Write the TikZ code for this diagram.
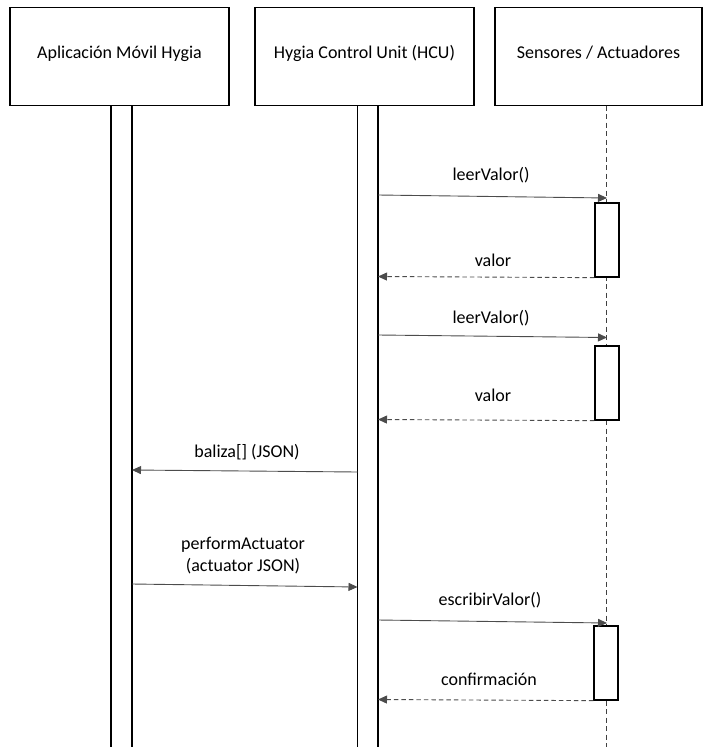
\documentclass[tikz,border=0pt]{standalone}
\usepackage{fontspec}
\setmainfont{Carlito}
\usetikzlibrary{arrows.meta}
\begin{document}
\begin{tikzpicture}[x=1pt,y=-1pt,
  lbl/.style={font=\fontsize{18}{22}\selectfont,text=black,inner sep=0pt,align=center},
  actor/.style={draw=black,line width=1.3pt,minimum width=219pt,minimum height=97.5pt,
    inner sep=0pt,text depth=9pt,lbl},
  bar/.style={draw=black,line width=1.4pt},
  lifeline/.style={draw=black!75,line width=0.8pt,dash pattern=on 5pt off 3.5pt},
  act/.style={draw=black,fill=white,line width=1.3pt,minimum width=24pt,minimum height=74pt,inner sep=0pt},
  call/.style={draw=black!70,line width=0.9pt,-{Triangle[length=9pt,width=8pt]}},
  reply/.style={draw=black!70,line width=0.9pt,dash pattern=on 4.5pt off 3pt,
    -{Triangle[length=9pt,width=8pt]}}
]
\useasboundingbox (0,0) rectangle (705,747);

% participant heads
\node[actor] (app) at (119.5,56.5) {Aplicación Móvil Hygia};
\node[actor] (hcu) at (364.5,56.5) {Hygia Control Unit (HCU)};
\node[actor,minimum width=207pt] (sens) at (598.5,56.5) {Sensores / Actuadores};

% lifelines
\draw[bar] (111,105.5) -- (111,747);
\draw[bar] (132,105.5) -- (132,747);
\draw[bar] (357.5,747) -- (357.5,105.5) -- (378,105.5) -- (378,747);
\draw[lifeline] (606.7,105.5) -- (606.7,747);

% activations on the sensor lifeline
\node[act] (act1) at (607,240) {};
\node[act] (act2) at (607,383) {};
\node[act] (act3) at (606,663) {};

% message end points
\coordinate (c1s) at (378,195);   \coordinate (c1e) at (607,198);
\coordinate (r1s) at (act1.south west); \coordinate (r1e) at (378,276.5);
\coordinate (c2s) at (378,335);   \coordinate (c2e) at (607,337.5);
\coordinate (r2s) at (act2.south west); \coordinate (r2e) at (378,419.5);
\coordinate (c3s) at (357.5,472); \coordinate (c3e) at (132,470);
\coordinate (c4s) at (132,584);   \coordinate (c4e) at (357.5,587);
\coordinate (c5s) at (378,620);   \coordinate (c5e) at (607,623);
\coordinate (r3s) at (act3.south west); \coordinate (r3e) at (378,699.5);

% messages
\draw[call] (c1s) -- (c1e);
\draw[reply] (r1s) -- (r1e);
\draw[call] (c2s) -- (c2e);
\draw[reply] (r2s) -- (r2e);
\draw[call] (c3s) -- (c3e);
\draw[call] (c4s) -- (c4e);
\draw[call] (c5s) -- (c5e);
\draw[reply] (r3s) -- (r3e);

% message labels
\node[lbl] (l1) at (491,175) {leerValor()};
\node[lbl] (l2) at (493,260) {valor};
\node[lbl] (l3) at (491,318) {leerValor()};
\node[lbl] (l4) at (493,395) {valor};
\node[lbl] (l5) at (247,452) {baliza[] (JSON)};
\node[lbl] (l6) at (243,556) {performActuator\\(actuator JSON)};
\node[lbl] (l7) at (490,600) {escribirValor()};
\node[lbl] (l8) at (489,679) {confirmación};
\end{tikzpicture}
\end{document}
